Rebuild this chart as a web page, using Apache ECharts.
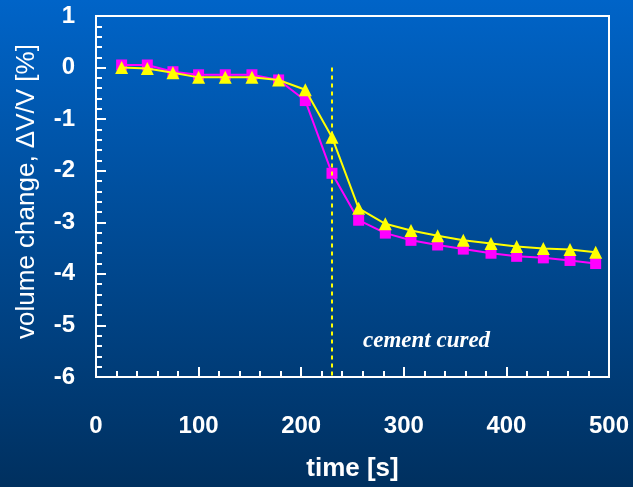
<!DOCTYPE html>
<html>
<head>
<meta charset="utf-8">
<script src="https://cdn.jsdelivr.net/npm/echarts@6/dist/echarts.min.js"></script>
<style>html,body{margin:0;padding:0;}#c{width:633px;height:487px;}</style>
</head>
<body>
<div id="c"></div>
<script>
const times = [25, 50, 75, 100, 126, 152, 178, 204, 230, 256, 282, 307, 333, 358, 385, 410, 436, 462, 487];
const seriesA = [0.05, 0.05, -0.08, -0.14, -0.14, -0.14, -0.24, -0.64, -2.05, -2.96, -3.21, -3.35, -3.44, -3.52, -3.60, -3.66, -3.69, -3.74, -3.80];
const seriesB = [0.00, -0.02, -0.10, -0.19, -0.19, -0.19, -0.24, -0.43, -1.35, -2.73, -3.03, -3.16, -3.26, -3.35, -3.41, -3.47, -3.51, -3.53, -3.58];
const cureTime = 230;
const xTicks = [0, 100, 200, 300, 400, 500];
const yTicks = [-6, -5, -4, -3, -2, -1, 0, 1];

const chart = echarts.init(document.getElementById('c'));
const font = 'Liberation Sans, Arial, sans-serif';
chart.setOption({
  backgroundColor: new echarts.graphic.LinearGradient(0, 0, 0, 1, [
    {offset: 0, color: '#0064C8'},
    {offset: 1, color: '#00305F'}
  ]),
  animation: false,
  grid: {left: 96, right: 24, top: 16, bottom: 104, show: true, borderColor: '#fff', borderWidth: 2, backgroundColor: 'transparent'},
  xAxis: {
    type: 'value', min: xTicks[0], max: xTicks[xTicks.length - 1], interval: 100,
    name: 'time [s]', nameLocation: 'middle', nameGap: 79,
    nameTextStyle: {color: '#fff', fontSize: 26, fontWeight: 'bold', fontFamily: font},
    axisLine: {onZero: false, lineStyle: {color: '#fff', width: 2}},
    axisTick: {inside: true, length: 10, lineStyle: {color: '#fff', width: 2}},
    minorTick: {show: true, splitNumber: 5, length: 6, lineStyle: {color: '#fff', width: 2}},
    splitLine: {show: false},
    axisLabel: {color: '#fff', fontSize: 24, fontWeight: 'bold', fontFamily: font, margin: 37}
  },
  yAxis: {
    type: 'value', min: yTicks[0], max: yTicks[yTicks.length - 1], interval: 1,
    name: 'volume change, ΔV/V [%]', nameLocation: 'middle', nameGap: 56,
    nameTextStyle: {color: '#fff', fontSize: 26, fontFamily: font, padding: [0, 0, 0, 10]},
    axisLine: {onZero: false, lineStyle: {color: '#fff', width: 2}},
    axisTick: {inside: true, length: 10, lineStyle: {color: '#fff', width: 2}},
    minorTick: {show: true, splitNumber: 5, length: 6, lineStyle: {color: '#fff', width: 2}},
    splitLine: {show: false},
    axisLabel: {color: '#fff', fontSize: 24, fontWeight: 'bold', fontFamily: font, margin: 21, padding: [5, 0, 0, 0]}
  },
  series: [
    {
      type: 'line', data: times.map((t, i) => [t, seriesA[i]]),
      symbol: 'rect', symbolSize: 11,
      lineStyle: {color: '#FF00FF', width: 2},
      itemStyle: {color: '#FF00FF'},
      markLine: {
        silent: true, symbol: 'none', label: {show: false},
        lineStyle: {color: '#FFFF00', width: 2, type: [4, 4]},
        data: [[{coord: [cureTime, 0]}, {coord: [cureTime, yTicks[0]]}]]
      },
      z: 3
    },
    {
      type: 'line', data: times.map((t, i) => [t, seriesB[i]]),
      symbol: 'triangle', symbolSize: 13,
      lineStyle: {color: '#FFFF00', width: 2},
      itemStyle: {color: '#FFFF00'},
      z: 4
    }
  ],
  graphic: [{
    type: 'text', left: 363, top: 330,
    style: {text: 'cement cured', fill: '#fff', font: 'italic bold 23px "Liberation Serif", "Times New Roman", serif'}
  }]
});
</script>
</body>
</html>
